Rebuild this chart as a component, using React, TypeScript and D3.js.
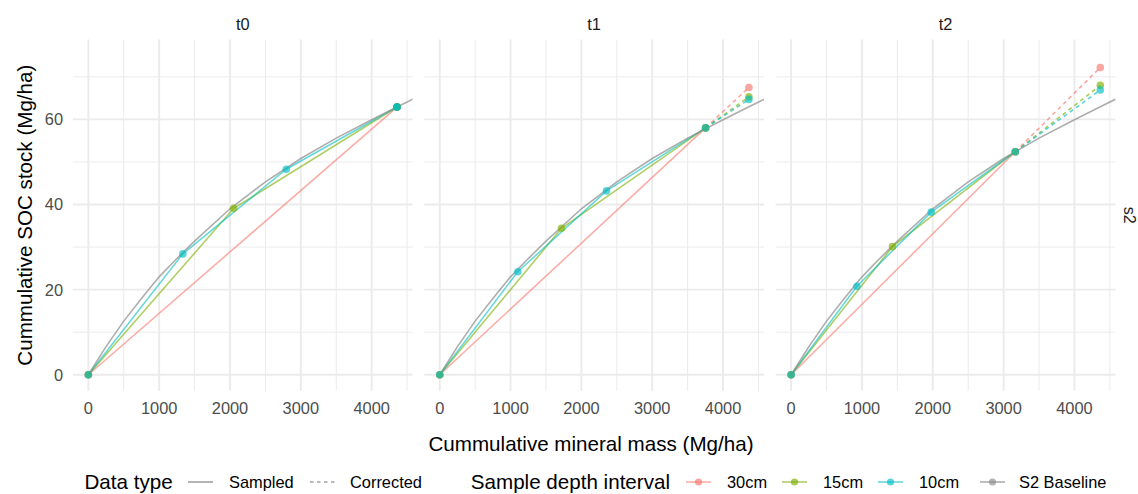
import React from "react";
import * as d3 from "d3";

const timePoints = ["t0", "t1", "t2"];
const depthLevels = ["30cm", "15cm", "10cm"];
const depthColors = ["#F8766D", "#7CAE00", "#00BFC4"];
const baselineLabel = "S2 Baseline";
const baselineColor = "#8A8A8A";

const xTicks = [0, 1000, 2000, 3000, 4000];
const xMinor = [500, 1500, 2500, 3500, 4500];
const yTicks = [0, 20, 40, 60];
const yMinor = [10, 30, 50, 70];

// S2 baseline curve (same in every panel)
const baselineMass = [0, 250, 500, 750, 1000, 1250, 1500, 2000, 2500, 3000, 3500, 4000, 4358, 4600];
const baselineSoc = [0, 6.6, 12.6, 17.9, 23.0, 27.3, 31.4, 39.0, 45.3, 50.8, 55.6, 59.9, 62.9, 64.9];

// t0 sampled
const t0Mass30 = [0, 4358];
const t0Soc30 = [0, 62.9];
const t0Mass15 = [0, 2052, 4358];
const t0Soc15 = [0, 39.1, 62.9];
const t0Mass10 = [0, 1334, 2794, 4358];
const t0Soc10 = [0, 28.4, 48.3, 62.9];

// t1 sampled
const t1Mass30 = [0, 3753];
const t1Soc30 = [0, 58.0];
const t1Mass15 = [0, 1719, 3753];
const t1Soc15 = [0, 34.4, 58.0];
const t1Mass10 = [0, 1102, 2354, 3753];
const t1Soc10 = [0, 24.2, 43.2, 58.0];

// t2 sampled
const t2Mass30 = [0, 3164];
const t2Soc30 = [0, 52.4];
const t2Mass15 = [0, 1431, 3164];
const t2Soc15 = [0, 30.1, 52.4];
const t2Mass10 = [0, 928, 1977, 3164];
const t2Soc10 = [0, 20.8, 38.2, 52.4];

// corrected (equivalent mass) values: order 30cm, 15cm, 10cm
const correctedMass = [4358, 4365, 4365];
const t0Corrected = [62.9, 62.9, 62.9];
const t1Corrected = [67.5, 65.3, 64.7];
const t2Corrected = [72.2, 68.0, 66.9];

const sampledMass = [
  [t0Mass30, t0Mass15, t0Mass10],
  [t1Mass30, t1Mass15, t1Mass10],
  [t2Mass30, t2Mass15, t2Mass10],
];
const sampledSoc = [
  [t0Soc30, t0Soc15, t0Soc10],
  [t1Soc30, t1Soc15, t1Soc10],
  [t2Soc30, t2Soc15, t2Soc10],
];
const correctedSoc = [t0Corrected, t1Corrected, t2Corrected];

const FONT = "'Liberation Sans', Arial, Helvetica, sans-serif";
const W = 1138;
const H = 494;
const panelLefts = [72.9, 424.3, 775.7];
const panelW = 339.7;
const panelTop = 39.6;
const panelBottom = 390.7;

const yScale = d3.scaleLinear().domain([-3.75, 78.75]).range([panelBottom, panelTop]);

type P = [number, number];

function Panel({ idx }: { idx: number }) {
  const left = panelLefts[idx];
  const x = d3.scaleLinear().domain([-218, 4578]).range([left, left + panelW]);
  const line = d3
    .line<P>()
    .x((d) => x(d[0]))
    .y((d) => yScale(d[1]));
  const clipId = `clip-${idx}`;
  const basePts: P[] = baselineMass.map((m, i) => [m, baselineSoc[i]]);
  return (
    <g>
      <defs>
        <clipPath id={clipId}>
          <rect x={left} y={panelTop} width={panelW} height={panelBottom - panelTop} />
        </clipPath>
      </defs>
      {/* grid */}
      {xMinor.map((v) => (
        <line key={"xm" + v} x1={x(v)} x2={x(v)} y1={panelTop} y2={panelBottom} stroke="#EBEBEB" strokeWidth={1} />
      ))}
      {yMinor.map((v) => (
        <line key={"ym" + v} x1={left} x2={left + panelW} y1={yScale(v)} y2={yScale(v)} stroke="#EBEBEB" strokeWidth={1} />
      ))}
      {xTicks.map((v) => (
        <line key={"xM" + v} x1={x(v)} x2={x(v)} y1={panelTop} y2={panelBottom} stroke="#EBEBEB" strokeWidth={1.9} />
      ))}
      {yTicks.map((v) => (
        <line key={"yM" + v} x1={left} x2={left + panelW} y1={yScale(v)} y2={yScale(v)} stroke="#EBEBEB" strokeWidth={1.9} />
      ))}
      {/* x tick labels */}
      {xTicks.map((v) => (
        <text key={"xt" + v} x={x(v)} y={413.5} textAnchor="middle" fontSize={16.4} fill="#4D4D4D" fontFamily={FONT}>
          {v}
        </text>
      ))}
      {/* strip */}
      <text x={left + panelW / 2} y={30} textAnchor="middle" fontSize={16.4} fill="#1A1A1A" fontFamily={FONT}>
        {timePoints[idx]}
      </text>
      <g clipPath={`url(#${clipId})`}>
        {/* sampled lines */}
        {depthLevels.map((d, k) => {
          const pts: P[] = sampledMass[idx][k].map((m, i) => [m, sampledSoc[idx][k][i]]);
          return (
            <path key={"l" + d} d={line(pts) || ""} fill="none" stroke={depthColors[k]} strokeOpacity={0.6} strokeWidth={1.6} />
          );
        })}
        {/* corrected dashed lines */}
        {depthLevels.map((d, k) => {
          const ms = sampledMass[idx][k];
          const ss = sampledSoc[idx][k];
          const pts: P[] = [
            [ms[ms.length - 1], ss[ss.length - 1]],
            [correctedMass[idx], correctedSoc[idx][k]],
          ];
          return (
            <path
              key={"c" + d}
              d={line(pts) || ""}
              fill="none"
              stroke={depthColors[k]}
              strokeOpacity={0.65}
              strokeWidth={1.6}
              strokeDasharray="4,3.5"
            />
          );
        })}
        {/* baseline */}
        <path d={line(basePts) || ""} fill="none" stroke={baselineColor} strokeOpacity={0.7} strokeWidth={1.6} />
        {/* points */}
        {depthLevels.map((d, k) => (
          <g key={"p" + d}>
            {sampledMass[idx][k].map((m, i) => (
              <circle key={i} cx={x(m)} cy={yScale(sampledSoc[idx][k][i])} r={3.8} fill={depthColors[k]} fillOpacity={0.65} />
            ))}
            <circle cx={x(correctedMass[idx])} cy={yScale(correctedSoc[idx][k])} r={3.8} fill={depthColors[k]} fillOpacity={0.65} />
          </g>
        ))}
      </g>
    </g>
  );
}

export default function App() {
  const legendY = 482;
  const keyW = 25;
  const depthKeys = [686, 782, 878];
  const depthLabelsX = [727, 823, 919];
  return (
    <svg
      width={W}
      height={H}
      viewBox={`0 0 ${W} ${H}`}
      style={{ position: "absolute", left: 0, top: 0, display: "block", background: "#fff" }}
    >
      <rect x={0} y={0} width={W} height={H} fill="#fff" />
      {timePoints.map((t, i) => (
        <Panel key={t} idx={i} />
      ))}
      {/* y tick labels */}
      {yTicks.map((v) => (
        <text key={"yt" + v} x={63} y={yScale(v) + 5.9} textAnchor="end" fontSize={16.4} fill="#4D4D4D" fontFamily={FONT}>
          {v}
        </text>
      ))}
      {/* axis titles */}
      <text
        transform={`translate(31.5, ${(panelTop + panelBottom) / 2}) rotate(-90)`}
        textAnchor="middle"
        fontSize={20.6}
        fill="#000"
        fontFamily={FONT}
      >
        Cummulative SOC stock (Mg/ha)
      </text>
      <text x={591} y={451} textAnchor="middle" fontSize={20.6} fill="#000" fontFamily={FONT}>
        Cummulative mineral mass (Mg/ha)
      </text>
      {/* right strip */}
      <text
        transform={`translate(1124, ${(panelTop + panelBottom) / 2}) rotate(90)`}
        textAnchor="middle"
        fontSize={16}
        fill="#1A1A1A"
        fontFamily={FONT}
      >
        s2
      </text>
      {/* legend: data type */}
      <text x={84.5} y={legendY + 7.3} fontSize={20.6} fill="#000" fontFamily={FONT}>
        Data type
      </text>
      <line x1={188} x2={188 + keyW} y1={legendY} y2={legendY} stroke={baselineColor} strokeWidth={1.6} strokeOpacity={0.8} />
      <text x={229} y={legendY + 5.9} fontSize={16.4} fill="#000" fontFamily={FONT}>
        Sampled
      </text>
      <line
        x1={310}
        x2={310 + keyW}
        y1={legendY}
        y2={legendY}
        stroke={baselineColor}
        strokeWidth={1.6}
        strokeOpacity={0.8}
        strokeDasharray="3.5,3.5"
      />
      <text x={350} y={legendY + 5.9} fontSize={16.4} fill="#000" fontFamily={FONT}>
        Corrected
      </text>
      {/* legend: depth interval */}
      <text x={670} y={legendY + 7.3} textAnchor="end" fontSize={20.6} fill="#000" fontFamily={FONT}>
        Sample depth interval
      </text>
      {depthLevels.map((d, k) => (
        <g key={"lg" + d}>
          <line x1={depthKeys[k]} x2={depthKeys[k] + keyW} y1={legendY} y2={legendY} stroke={depthColors[k]} strokeOpacity={0.6} strokeWidth={1.6} />
          <circle cx={depthKeys[k] + keyW / 2} cy={legendY} r={3.6} fill={depthColors[k]} fillOpacity={0.65} />
          <text x={depthLabelsX[k]} y={legendY + 5.9} fontSize={16.4} fill="#000" fontFamily={FONT}>
            {d}
          </text>
        </g>
      ))}
      <line x1={980} x2={980 + keyW} y1={legendY} y2={legendY} stroke={baselineColor} strokeOpacity={0.7} strokeWidth={1.6} />
      <circle cx={980 + keyW / 2} cy={legendY} r={3.6} fill={baselineColor} fillOpacity={0.65} />
      <text x={1019} y={legendY + 5.9} fontSize={16.4} fill="#000" fontFamily={FONT}>
        {baselineLabel}
      </text>
    </svg>
  );
}
